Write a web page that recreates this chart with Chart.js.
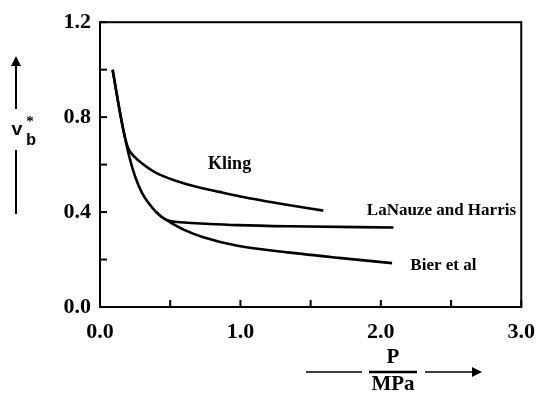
<!DOCTYPE html>
<html>
<head>
<meta charset="utf-8">
<script src="https://cdn.jsdelivr.net/npm/chart.js@4"></script>
<style>
  html, body { margin: 0; padding: 0; background: #fff; }
  #wrap { width: 547px; height: 393px; }
</style>
</head>
<body>
<div id="wrap"><canvas id="grafico"></canvas></div>
<script>
/* Valores: P en MPa, v_b* adimensional */
var bierP = [0.09, 0.13, 0.17, 0.21, 0.25, 0.30, 0.35, 0.40, 0.45, 0.50, 0.60, 0.73, 0.98, 1.34, 1.70, 2.08];
var bierV = [1.00, 0.86, 0.735, 0.63, 0.55, 0.48, 0.435, 0.40, 0.375, 0.357, 0.325, 0.295, 0.258, 0.23, 0.207, 0.185];

var klingP = [0.09, 0.13, 0.17, 0.20, 0.25, 0.30, 0.40, 0.55, 0.70, 0.85, 1.00, 1.34, 1.59];
var klingV = [1.00, 0.86, 0.735, 0.67, 0.63, 0.605, 0.565, 0.53, 0.505, 0.485, 0.466, 0.43, 0.406];

var lanauzeP = [0.40, 0.45, 0.50, 0.60, 0.75, 0.98, 1.34, 2.09];
var lanauzeV = [0.40, 0.375, 0.362, 0.356, 0.351, 0.345, 0.34, 0.335];

var ejeX = [0, 1, 2, 3];          // etiquetas del eje P
var ejeY = [0, 0.4, 0.8, 1.2];    // etiquetas del eje v_b*

var nombres = ['Kling', 'LaNauze and Harris', 'Bier et al'];

function puntos(xs, ys) {
    return xs.map(function (v, i) { return { x: v, y: ys[i] }; });
}

var fuente = 'Liberation Serif, Times New Roman, serif';

/* Marco, marcas hacia dentro, rotulos de curvas y titulos de ejes */
var marcoPlugin = {
    id: 'marco',
    afterDraw: function (chart) {
        var ctx = chart.ctx, a = chart.chartArea;
        var sx = chart.scales.x, sy = chart.scales.y;
        ctx.save();
        ctx.strokeStyle = '#000';
        ctx.fillStyle = '#000';
        ctx.lineWidth = 2;
        ctx.strokeRect(a.left, a.top, a.right - a.left, a.bottom - a.top);

        sx.ticks.forEach(function (t) {
            var px = sx.getPixelForValue(t.value);
            ctx.beginPath(); ctx.moveTo(px, a.bottom); ctx.lineTo(px, a.bottom - 7); ctx.stroke();
        });
        sy.ticks.forEach(function (t) {
            var py = sy.getPixelForValue(t.value);
            ctx.beginPath(); ctx.moveTo(a.left, py); ctx.lineTo(a.left + 7, py); ctx.stroke();
        });

        // rotulos de las curvas
        ctx.textBaseline = 'middle';
        ctx.textAlign = 'left';
        ctx.font = 'bold 18px ' + fuente;
        ctx.fillText(nombres[0], sx.getPixelForValue(0.77), sy.getPixelForValue(0.60));
        ctx.font = 'bold 17px ' + fuente;
        ctx.fillText(nombres[1], sx.getPixelForValue(1.90), sy.getPixelForValue(0.405));
        ctx.fillText(nombres[2], sx.getPixelForValue(2.21), sy.getPixelForValue(0.175));

        // titulo eje x: P / MPa con flecha
        ctx.textAlign = 'center';
        ctx.font = 'bold 21px ' + fuente;
        ctx.fillText('P', 393, 358);
        ctx.fillText('MPa', 393, 385);
        ctx.lineWidth = 2.5;
        ctx.beginPath(); ctx.moveTo(369, 372); ctx.lineTo(417, 372); ctx.stroke();
        ctx.lineWidth = 1.5;
        ctx.beginPath(); ctx.moveTo(306, 372); ctx.lineTo(362, 372); ctx.stroke();
        ctx.beginPath(); ctx.moveTo(425, 372); ctx.lineTo(478, 372); ctx.stroke();
        ctx.beginPath(); ctx.moveTo(482, 372); ctx.lineTo(472, 367); ctx.lineTo(472, 377); ctx.closePath(); ctx.fill();

        // titulo eje y: v_b* con flecha
        ctx.lineWidth = 2;
        ctx.beginPath(); ctx.moveTo(16, 62); ctx.lineTo(16, 109); ctx.stroke();
        ctx.beginPath(); ctx.moveTo(16, 56); ctx.lineTo(11, 66); ctx.lineTo(21, 66); ctx.closePath(); ctx.fill();
        ctx.beginPath(); ctx.moveTo(16, 150); ctx.lineTo(16, 214); ctx.stroke();
        ctx.font = 'bold 19px Liberation Mono, Courier New, monospace';
        ctx.fillText('v', 17, 130);
        ctx.font = 'bold 17px Liberation Mono, Courier New, monospace';
        ctx.fillText('b', 31, 141);
        ctx.font = 'bold 15px ' + fuente;
        ctx.fillText('*', 30, 122);
        ctx.restore();
    }
};

var estiloLinea = { borderColor: '#000', borderWidth: 2.6, pointRadius: 0, showLine: true, fill: false, tension: 0.4, cubicInterpolationMode: 'monotone' };

var grafico = new Chart(document.getElementById('grafico').getContext('2d'), {
    type: 'scatter',
    data: {
        datasets: [
            Object.assign({ label: nombres[0], data: puntos(klingP, klingV) }, estiloLinea),
            Object.assign({ label: nombres[1], data: puntos(lanauzeP, lanauzeV) }, estiloLinea),
            Object.assign({ label: nombres[2], data: puntos(bierP, bierV) }, estiloLinea)
        ]
    },
    options: {
        responsive: true,
        maintainAspectRatio: false,
        animation: false,
        layout: { padding: { left: 0, right: 20, top: 21, bottom: 0 } },
        plugins: { legend: { display: false }, tooltip: { enabled: false } },
        scales: {
            x: {
                type: 'linear', min: 0, max: 3,
                grid: { display: false, drawTicks: false },
                border: { display: false },
                afterFit: function (s) { s.height = 86; },
                ticks: {
                    stepSize: 0.5, padding: 12, color: '#000',
                    font: { family: fuente, size: 22, weight: 'bold' },
                    callback: function (v) {
                        return ejeX.indexOf(Math.round(v * 10) / 10) >= 0 ? v.toFixed(1) : '';
                    }
                }
            },
            y: {
                type: 'linear', min: 0, max: 1.2,
                grid: { display: false, drawTicks: false },
                border: { display: false },
                afterFit: function (s) { s.width = 100; },
                ticks: {
                    stepSize: 0.2, padding: 9, color: '#000',
                    font: { family: fuente, size: 22, weight: 'bold' },
                    callback: function (v) {
                        return ejeY.indexOf(Math.round(v * 10) / 10) >= 0 ? v.toFixed(1) : '';
                    }
                }
            }
        }
    },
    plugins: [marcoPlugin]
});
</script>
</body>
</html>
